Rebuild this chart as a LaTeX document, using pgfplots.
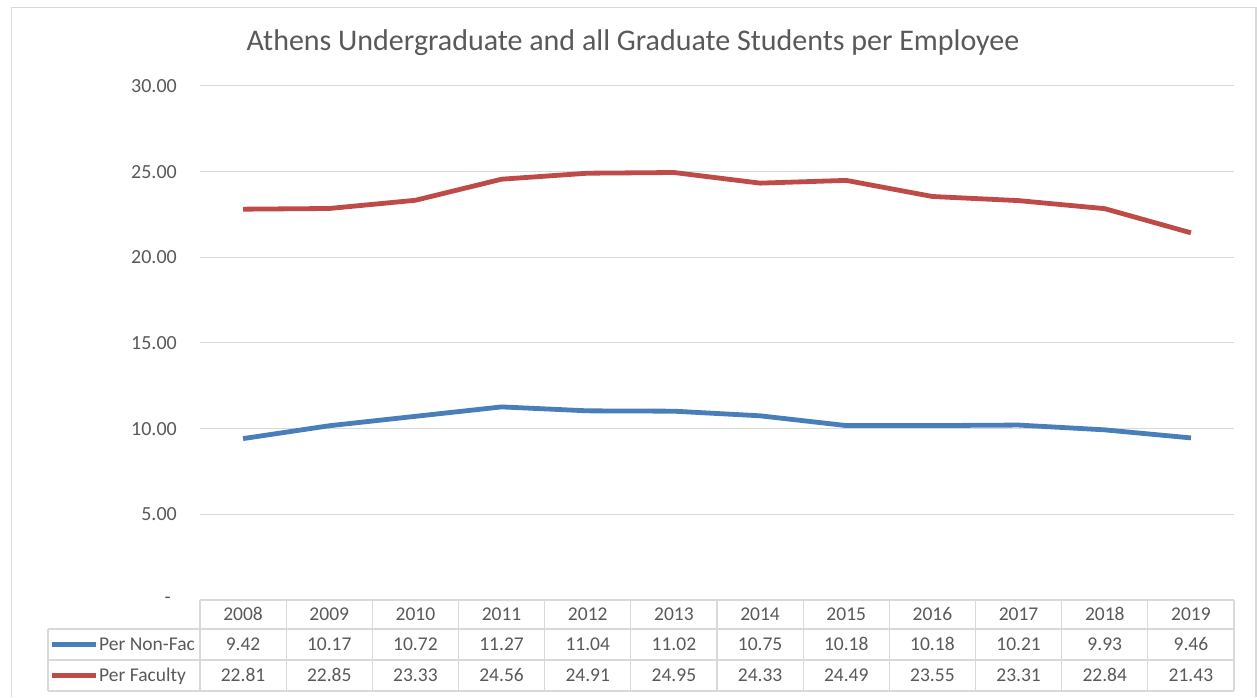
\documentclass[border=0pt]{standalone}
\usepackage{pgfplots}
\pgfplotsset{compat=1.18}
\usepackage{pgfplotstable}
\usepackage{fontspec}
\setmainfont{Carlito}
\definecolor{txt}{HTML}{595959}
\definecolor{grd}{HTML}{D9D9D9}
\definecolor{blu}{HTML}{4A7EBB}
\definecolor{rd}{HTML}{BE4B48}
\pgfplotstableread{
x year nf fac
0 2008 9.42 22.81
1 2009 10.17 22.85
2 2010 10.72 23.33
3 2011 11.27 24.56
4 2012 11.04 24.91
5 2013 11.02 24.95
6 2014 10.75 24.33
7 2015 10.18 24.49
8 2016 10.18 23.55
9 2017 10.21 23.31
10 2018 9.93 22.84
11 2019 9.46 21.43
}\datatable
\begin{document}
\begin{tikzpicture}[x=1pt,y=1pt]
\path (0,0) rectangle (1257,697);
\coordinate (A) at (200,97);
\draw[grd, line width=1.2pt] (11.5,0) -- (11.5,689.5) -- (1256,689.5) -- (1256,0);
\node[text=txt, font=\fontsize{30}{34}\selectfont] at (633,697-43) {Athens Undergraduate and all Graduate Students per Employee};
\begin{axis}[
  at={(A)}, anchor=south west,
  scale only axis, width=1034pt, height=514pt,
  xmin=-0.5, xmax=11.5, ymin=0, ymax=30,
  xtick=\empty,
  ytick={0,5,10,15,20,25,30},
  yticklabels={{-\hspace*{6pt}},5.00,10.00,15.00,20.00,25.00,30.00},
  ymajorgrids, grid style={grd, line width=1pt},
  axis line style={draw=none}, major tick length=0pt,
  yticklabel style={text=txt, font=\fontsize{20}{24}\selectfont, inner sep=0pt, xshift=-23pt},
  clip=false,
]
\addplot[blu, line width=4.8pt, line join=round] table[x=x, y=nf] {\datatable};
\addplot[rd, line width=4.8pt, line join=round] table[x=x, y=fac] {\datatable};
\end{axis}
% data table
\begin{scope}[grd, line width=1.2pt]
\draw (200,697-600) -- (1234,697-600);
\foreach \yy in {629,660,691} \draw (48,697-\yy) -- (1234,697-\yy);
\draw (48,697-629) -- (48,697-691);
\foreach \k in {0,...,12} \draw ({200+\k*1034/12},697-600) -- ({200+\k*1034/12},697-691);
\end{scope}
\tikzset{cell/.style={text=txt, anchor=base, inner sep=0pt, font=\fontsize{19.5}{23}\selectfont}}
\foreach \yr/\a/\b [count=\i from 0] in {2008/9.42/22.81,2009/10.17/22.85,2010/10.72/23.33,2011/11.27/24.56,2012/11.04/24.91,2013/11.02/24.95,2014/10.75/24.33,2015/10.18/24.49,2016/10.18/23.55,2017/10.21/23.31,2018/9.93/22.84,2019/9.46/21.43}{
  \node[cell] at ({200+(\i+0.5)*1034/12},697-614.5-6.5) {\yr};
  \node[cell] at ({200+(\i+0.5)*1034/12},697-644.5-6.5) {\a};
  \node[cell] at ({200+(\i+0.5)*1034/12},697-675.5-6.5) {\b};
}
\draw[blu, line width=4.5pt] (52,697-644.5) -- (96,697-644.5);
\draw[rd, line width=4.5pt] (52,697-675.5) -- (96,697-675.5);
\node[cell, anchor=base west] at (99,697-644.5-6.5) {Per Non-Fac};
\node[cell, anchor=base west] at (99,697-675.5-6.5) {Per Faculty};
\end{tikzpicture}
\end{document}
